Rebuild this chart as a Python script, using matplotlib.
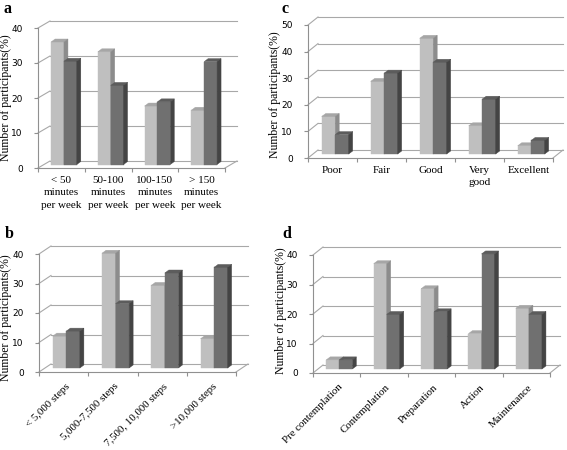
import numpy as np
import matplotlib
matplotlib.use('Agg')
import matplotlib.pyplot as plt
from matplotlib.patches import Polygon

plt.rcParams['font.family'] = 'serif'
plt.rcParams['font.serif'] = ['Liberation Serif', 'DejaVu Serif']

W, H = 567, 450

a_cats = ['< 50\nminutes\nper week', '50-100\nminutes\nper week',
          '100-150\nminutes\nper week', '> 150\nminutes\nper week']
a_light = [35.0, 32.2, 16.7, 15.5]
a_dark = [29.5, 22.6, 17.9, 29.4]

b_cats = ['< 5,000 steps', '5,000-7,500 steps', '7,500, 10,000 steps', '>10,000 steps']
b_light = [10.8, 38.9, 28.0, 9.9]
b_dark = [12.5, 21.8, 32.2, 34.1]

c_cats = ['Poor', 'Fair', 'Good', 'Very\ngood', 'Excellent']
c_light = [14.1, 27.3, 43.5, 10.6, 3.1]
c_dark = [7.3, 30.4, 34.5, 20.6, 5.1]

d_cats = ['Pre contemplation', 'Contemplation', 'Preparation', 'Action', 'Maintenance']
d_light = [3.1, 35.7, 27.2, 12.0, 20.6]
d_dark = [3.1, 18.5, 19.4, 39.0, 18.5]

LIGHT = ('#bfbfbf', '#a6a6a6', '#8c8c8c')   # front, top, side
DARK = ('#707070', '#5c5c5c', '#444444')
GRID = '#a8a8a8'
FS = 8


def panel(fig, box, cats, light, dark, ymax, step, depth, rotated=False):
    left, right, top, bottom = box
    ax = fig.add_axes([left / W, 1 - bottom / H, (right - left) / W, (bottom - top) / H])
    n = len(cats)
    ax.set_xlim(0, n)
    ax.set_ylim(0, ymax)
    ux = n / (right - left)
    uy = ymax / (bottom - top)
    ox, oy = depth[0] * ux, depth[1] * uy

    for s in ['top', 'right']:
        ax.spines[s].set_visible(False)
    for s in ['left', 'bottom']:
        ax.spines[s].set_color('#909090')
        ax.spines[s].set_linewidth(0.8)
    ticks = np.arange(0, ymax + 0.1, step)
    ax.set_yticks(ticks)
    ax.set_yticklabels(['%d' % t for t in ticks], fontsize=6.5, family='DejaVu Sans')
    ax.tick_params(axis='y', length=3, width=0.8, color='#909090', pad=8)
    ax.set_xticks(np.arange(n + 1))
    ax.set_xticklabels([])
    ax.tick_params(axis='x', length=3, width=0.8, color='#909090')

    # back wall grid and side wall
    for t in ticks:
        ax.plot([ox, n + ox], [t + oy, t + oy], color=GRID, lw=0.8, clip_on=False, zorder=1)
        ax.plot([0, ox], [t, t + oy], color=GRID, lw=0.8, clip_on=False, zorder=1)
    ax.plot([n, n + ox], [0, oy], color=GRID, lw=0.8, clip_on=False, zorder=1)

    # bars
    base = 0.5 * oy
    sx, sy = 4 * ux, 3 * uy
    for i in range(n):
        for v, (x0, x1), cols in [(light[i], (0.28, 0.555), LIGHT),
                                  (dark[i], (0.555, 0.83), DARK)]:
            x0 += i
            x1 += i
            yt = base + v
            front = [(x0, base), (x1, base), (x1, yt), (x0, yt)]
            topf = [(x0, yt), (x1, yt), (x1 + sx, yt + sy), (x0 + sx, yt + sy)]
            side = [(x1, base), (x1 + sx, base + sy), (x1 + sx, yt + sy), (x1, yt)]
            for pts, c in [(front, cols[0]), (topf, cols[1]), (side, cols[2])]:
                ax.add_patch(Polygon(pts, closed=True, facecolor=c, edgecolor=c,
                                     lw=0.3, clip_on=False, zorder=3))

    # category labels
    for i, c in enumerate(cats):
        if rotated:
            ax.annotate(c, (i + 0.5, 0), xytext=(1, -7), textcoords='offset points',
                        rotation=45, ha='right', va='top', rotation_mode='anchor',
                        fontsize=7.8)
        else:
            ax.annotate(c, (i + 0.5, 0), xytext=(0, -6), textcoords='offset points',
                        ha='center', va='top', fontsize=FS, linespacing=1.45)
    return ax


fig = plt.figure(figsize=(W / 100, H / 100), dpi=100)

panel(fig, (38, 225, 28, 168), a_cats, a_light, a_dark, 40, 10, (12, 7))
panel(fig, (39, 236, 254, 372), b_cats, b_light, b_dark, 40, 10, (12, 8), rotated=True)
panel(fig, (308, 553, 25, 158), c_cats, c_light, c_dark, 50, 10, (10, 8))
panel(fig, (313, 550, 255, 373), d_cats, d_light, d_dark, 40, 10, (10, 8), rotated=True)

ylab = 'Number of participants(%)'
for x, y in [(6, 98), (6, 318), (275, 95), (281, 311)]:
    fig.text(x / W, 1 - y / H, ylab, rotation=90, ha='center', va='center', fontsize=8.5)

for s, x, y in [('a', 4, 1), ('b', 5, 226), ('c', 282, 1), ('d', 282, 226)]:
    fig.text(x / W, 1 - y / H, s, ha='left', va='top', fontsize=11.5, fontweight='bold')

fig.savefig('out.png', dpi=100)
